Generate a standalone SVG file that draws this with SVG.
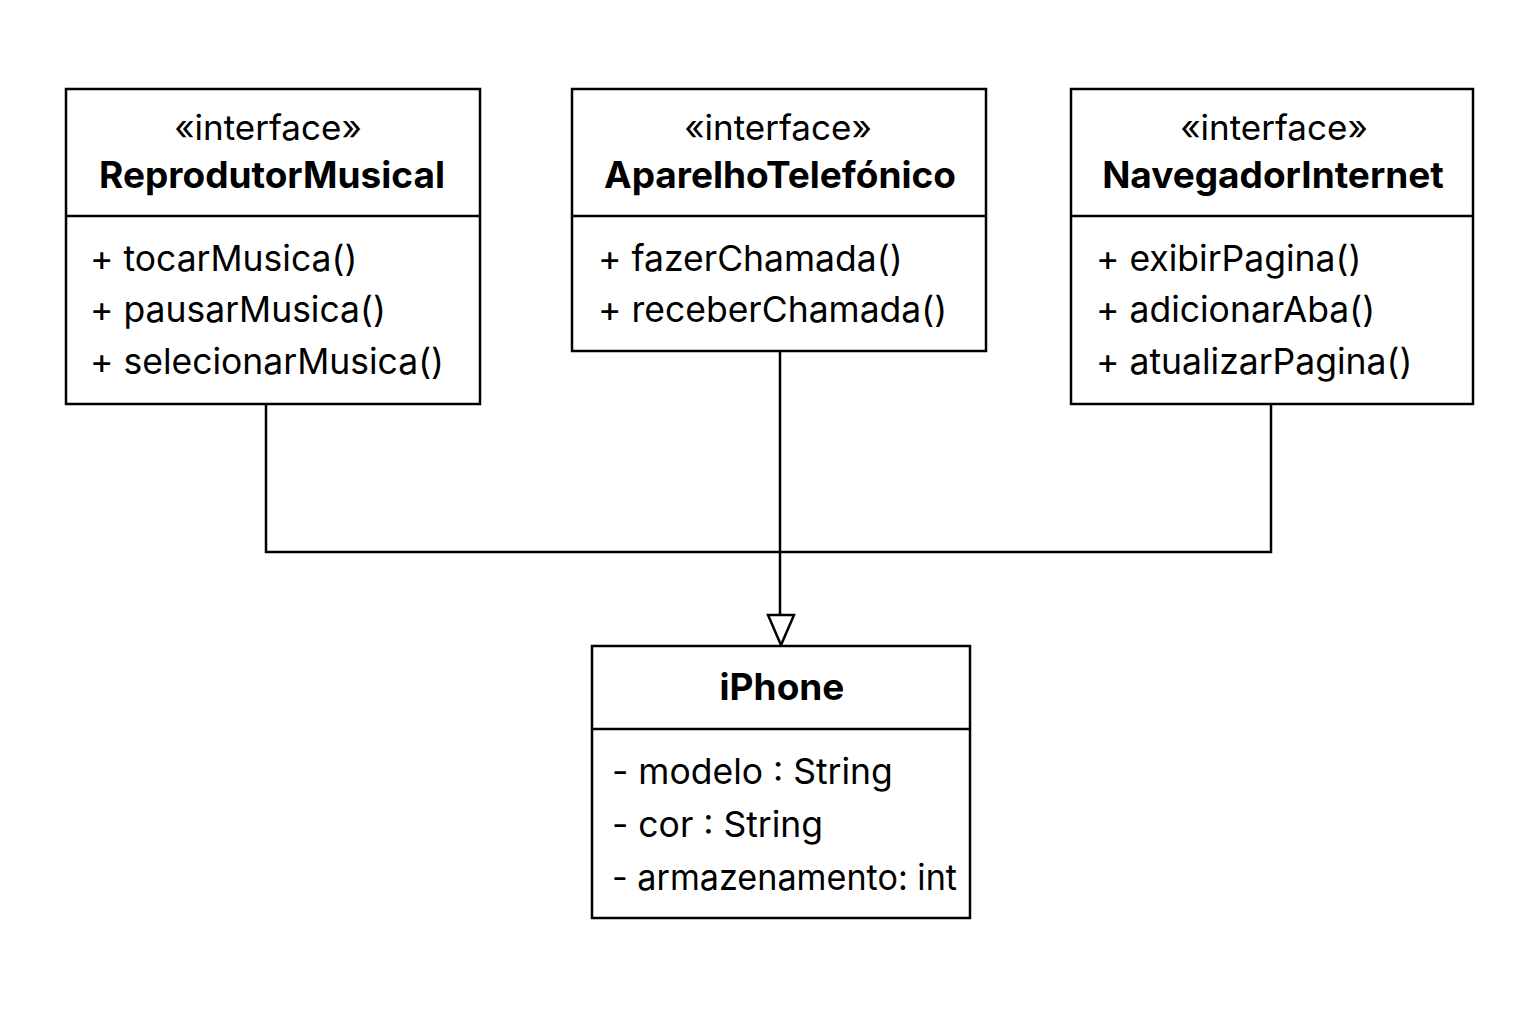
<svg xmlns="http://www.w3.org/2000/svg" width="1536" height="1024" viewBox="0 0 1536 1024">
<defs>
<style>
.box{fill:#fff;stroke:#000;stroke-width:2.5}
.div{stroke:#000;stroke-width:2.5}
.st{font-family:Inter,"Noto Sans",sans-serif;font-size:35px;text-anchor:middle;fill:#000}
.nm{font-family:Inter,"Noto Sans",sans-serif;font-size:37px;font-weight:700;text-anchor:middle;fill:#000}
.mb{font-family:Inter,"Noto Sans",sans-serif;font-size:35.5px;fill:#000}
.ln{fill:none;stroke:#000;stroke-width:2.5}
</style>
</defs>
<rect width="1536" height="1024" fill="#fff"/>
<g id="connectors">
<polyline class="ln" points="266,404 266,552 1271,552 1271,404"/>
<line class="ln" x1="780" y1="351" x2="780" y2="615"/>
<path d="M768,615 L794,615 L781,645 Z" fill="#fff" stroke="#000" stroke-width="2.5" stroke-linejoin="miter"/>
</g>
<g id="ReprodutorMusical">
<rect class="box" x="66" y="89" width="414" height="315"/>
<line class="div" x1="66" y1="216" x2="480" y2="216"/>
<text class="st" x="268" y="140">«interface»</text>
<text class="nm" x="272" y="188">ReprodutorMusical</text>
<text class="mb" x="90" y="271">+ tocarMusica()</text>
<text class="mb" x="90" y="322">+ pausarMusica()</text>
<text class="mb" x="90" y="374">+ selecionarMusica()</text>
</g>
<g id="AparelhoTelefonico">
<rect class="box" x="572" y="89" width="414" height="262"/>
<line class="div" x1="572" y1="216" x2="986" y2="216"/>
<text class="st" x="778" y="140">«interface»</text>
<text class="nm" x="780" y="188">AparelhoTelefónico</text>
<text class="mb" x="598" y="271">+ fazerChamada()</text>
<text class="mb" x="598" y="322">+ receberChamada()</text>
</g>
<g id="NavegadorInternet">
<rect class="box" x="1071" y="89" width="402" height="315"/>
<line class="div" x1="1071" y1="216" x2="1473" y2="216"/>
<text class="st" x="1274" y="140">«interface»</text>
<text class="nm" x="1273" y="188">NavegadorInternet</text>
<text class="mb" x="1096" y="271">+ exibirPagina()</text>
<text class="mb" x="1096" y="322">+ adicionarAba()</text>
<text class="mb" x="1096" y="374">+ atualizarPagina()</text>
</g>
<g id="iPhone">
<rect class="box" x="592" y="646" width="378" height="272"/>
<line class="div" x1="592" y1="729" x2="970" y2="729"/>
<text class="nm" x="782" y="700">iPhone</text>
<text class="mb" x="612" y="784">- modelo : String</text>
<text class="mb" x="612" y="837">- cor : String</text>
<text class="mb" x="612" y="890" textLength="345" lengthAdjust="spacingAndGlyphs">- armazenamento: int</text>
</g>
</svg>
